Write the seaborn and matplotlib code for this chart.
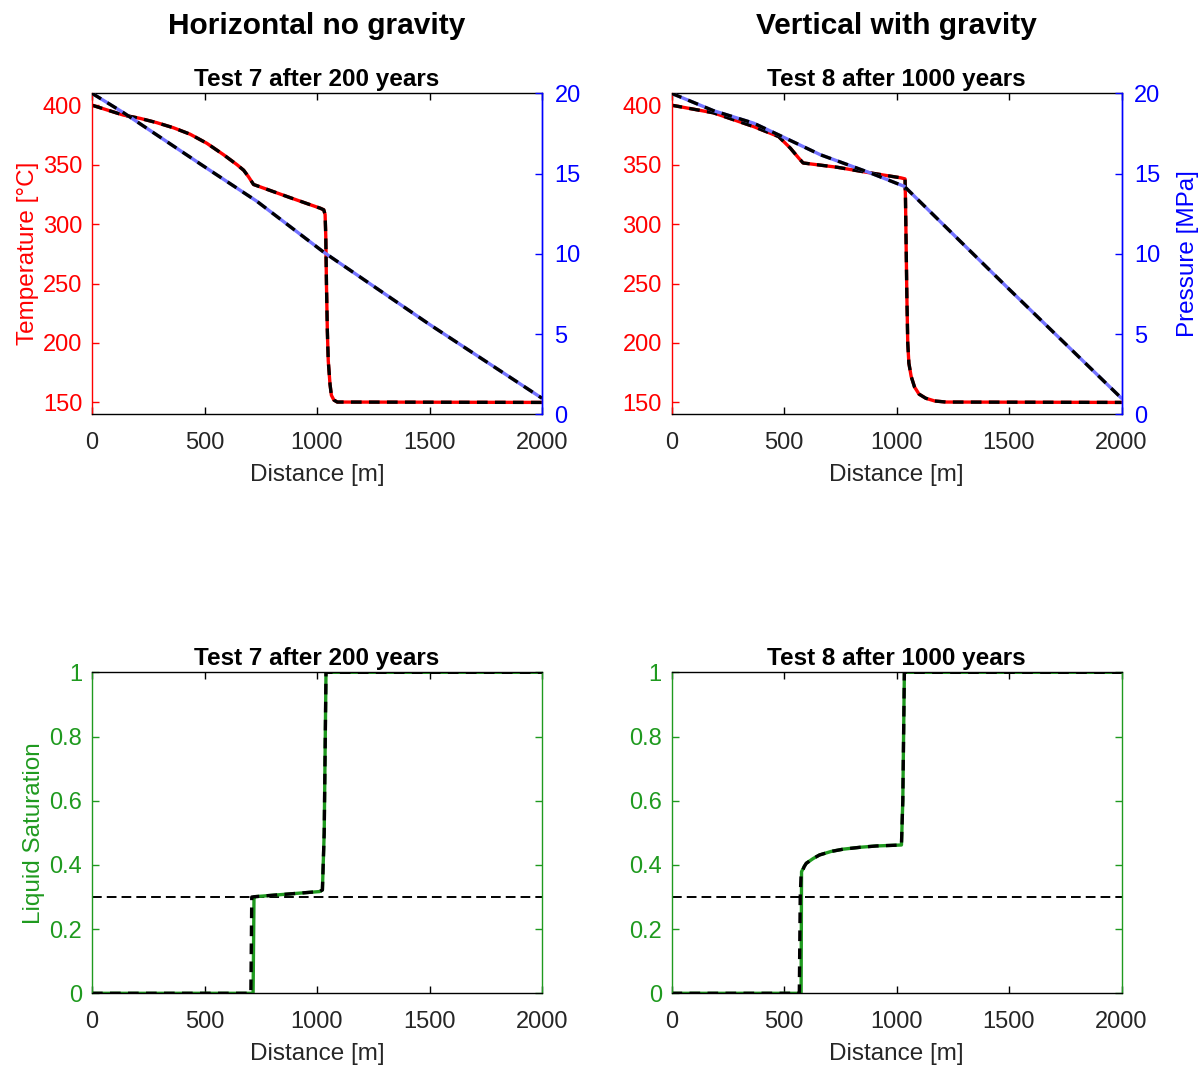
import numpy as np
import pandas as pd
import matplotlib
matplotlib.use("Agg")
import matplotlib.pyplot as plt
import seaborn as sns

# ---- profile data along the 2 km column ----
# Test 7 (horizontal, no gravity) after 200 years
t7_temp_x = [0, 139, 214, 288, 362, 436, 510, 585, 644, 674, 696, 718, 881, 1015, 1030,
             1036, 1039, 1042, 1046, 1050, 1054, 1058, 1064, 1075, 1090, 2000]
t7_temp_y = [400, 391.7, 388.9, 385.3, 381, 375.6, 368, 358.3, 350, 345.3, 339.7, 333.3,
             322.2, 313.3, 312, 308, 290, 250, 210, 185, 175, 165, 156, 152, 150.3, 150]
t7_pres_x = [0, 139, 481, 733, 1030, 1500, 2000]
t7_pres_y = [20, 18.8, 15.6, 13.27, 10.1, 5.6, 1.0]
t7_sat_x = [0, 716, 720, 724, 850, 1012, 1024, 1032, 1040, 2000]
t7_sat_y = [0, 0, 0.30, 0.301, 0.308, 0.317, 0.322, 0.5, 1.0, 1.0]
t7_sat_ref_x = [0, 706, 710, 724, 850, 1012, 1024, 1032, 1040, 2000]
t7_sat_ref_y = [0, 0, 0.30, 0.301, 0.308, 0.317, 0.322, 0.5, 1.0, 1.0]

# Test 8 (vertical, with gravity) after 1000 years
t8_temp_x = [0, 186, 365, 476, 528, 565, 585, 736, 885, 1019, 1038, 1040, 1043, 1046,
             1050, 1055, 1065, 1080, 1100, 1130, 1170, 1220, 2000]
t8_temp_y = [400, 393.6, 382, 373.6, 363.9, 355.6, 351.4, 347.8, 343, 338.9, 338, 320,
             280, 240, 200, 183, 172, 163, 157, 153.5, 151.2, 150.3, 150]
t8_pres_x = [0, 186, 365, 476, 662, 885, 1035, 1500, 2000]
t8_pres_y = [20, 18.92, 18.14, 17.41, 16.17, 15.03, 14.2, 7.8, 1.0]
t8_sat_x = [0, 576, 578, 590, 599, 630, 658, 710, 763, 840, 911, 1022, 1028, 1035, 2000]
t8_sat_y = [0, 0, 0.379, 0.395, 0.405, 0.42, 0.431, 0.442, 0.449, 0.455, 0.459, 0.462,
            0.6, 1.0, 1.0]
t8_sat_ref_x = [0, 568, 572, 576, 590, 599, 630, 658, 710, 763, 840, 911, 1022, 1028, 1035, 2000]
t8_sat_ref_y = [0, 0, 0.30, 0.37, 0.395, 0.405, 0.42, 0.431, 0.442, 0.449, 0.455, 0.459,
                0.462, 0.6, 1.0, 1.0]

residual_sat = 0.3

column_titles = ["Horizontal no gravity", "Vertical with gravity"]
panel_titles = ["Test 7 after 200 years", "Test 8 after 1000 years"]
x_ticks = [0, 500, 1000, 1500, 2000]
temp_ticks = [150, 200, 250, 300, 350, 400]
pres_ticks = [0, 5, 10, 15, 20]
sat_ticks = [0, 0.2, 0.4, 0.6, 0.8, 1.0]
sat_tick_labels = ["0", "0.2", "0.4", "0.6", "0.8", "1"]

# ---- styling ----
sns.set_style("ticks")
plt.rcParams["font.family"] = ["Liberation Sans", "DejaVu Sans"]
plt.rcParams["axes.linewidth"] = 1.0
plt.rcParams["text.color"] = "black"

RED = "#ff0000"
BLUE = "#0000ff"
PBLUE = "#7373ff"
GREEN = "#1f9a1f"
GREY = "#262626"
LW = 2.4
DLW = 2.4
DASH = (0, (3.2, 2.2))
TICK_FS = 17
LABEL_FS = 17.5
TITLE_FS = 17.5

fig = plt.figure(figsize=(12.01, 10.68), dpi=100)

col_left = [92 / 1201, 671.5 / 1201]
ax_w = 450 / 1201
top_bottom = 1 - 414.3 / 1068
bot_bottom = 1 - 993.3 / 1068
ax_h = 321 / 1068


def style_x(ax):
    ax.set_xlim(0, 2000)
    ax.set_xticks(x_ticks)
    ax.set_xticklabels([str(v) for v in x_ticks])
    ax.tick_params(axis="x", which="both", direction="in", top=True, bottom=True,
                   length=5, width=1, color="black", labelcolor=GREY,
                   labelsize=TICK_FS, pad=13)
    ax.set_xlabel("Distance [m]", fontsize=LABEL_FS, color=GREY, labelpad=7)
    ax.spines["top"].set_color("black")
    ax.spines["bottom"].set_color("black")


def line(ax, x, y, color, dashed=False):
    df = pd.DataFrame({"x": x, "y": y})
    kw = dict(linestyle=DASH, linewidth=DLW) if dashed else dict(linewidth=LW)
    sns.lineplot(data=df, x="x", y="y", ax=ax, color=color,
                 estimator=None, sort=False, legend=False, **kw)


temp_sets = [(t7_temp_x, t7_temp_y, t7_pres_x, t7_pres_y),
             (t8_temp_x, t8_temp_y, t8_pres_x, t8_pres_y)]
sat_sets = [(t7_sat_x, t7_sat_y, t7_sat_ref_x, t7_sat_ref_y),
            (t8_sat_x, t8_sat_y, t8_sat_ref_x, t8_sat_ref_y)]

for i in range(2):
    # temperature / pressure panel
    ax = fig.add_axes([col_left[i], top_bottom, ax_w, ax_h])
    tx, ty, px, py = temp_sets[i]
    line(ax, tx, ty, RED)
    line(ax, tx, ty, "black", dashed=True)
    ax.set_ylim(140, 410)
    ax.set_yticks(temp_ticks)
    ax.set_yticklabels([str(v) for v in temp_ticks])
    ax.tick_params(axis="y", which="both", direction="in", left=True, right=True,
                   labelright=False, length=5, width=1, color=RED, labelcolor=RED,
                   labelsize=TICK_FS, pad=7)
    ax.spines["left"].set_color(RED)
    ax.spines["right"].set_color(BLUE)
    style_x(ax)
    ax.set_ylabel("Temperature [°C]" if i == 0 else "", fontsize=LABEL_FS, color=RED,
                  labelpad=3)
    ax.set_title(panel_titles[i], fontsize=TITLE_FS, fontweight="bold", pad=5,
                 color="black")

    ax2 = ax.twinx()
    line(ax2, px, py, PBLUE)
    line(ax2, px, py, "black", dashed=True)
    ax2.set_ylim(0, 20)
    ax2.set_yticks(pres_ticks)
    ax2.set_yticklabels([str(v) for v in pres_ticks])
    ax2.tick_params(axis="y", which="both", direction="in", right=True, left=False,
                    length=5, width=1, color=BLUE, labelcolor=BLUE,
                    labelsize=TICK_FS, pad=9)
    for s in ["left", "top", "bottom"]:
        ax2.spines[s].set_visible(False)
    ax2.spines["right"].set_color(BLUE)
    ax2.set_ylabel("Pressure [MPa]" if i == 1 else "", fontsize=LABEL_FS, color=BLUE,
                   labelpad=12)
    ax2.set_xlabel("")

    fig.text(col_left[i] + ax_w / 2, 1 - 26 / 1068, column_titles[i], ha="center",
             va="center", fontsize=21.5, fontweight="bold", color="black")

    # saturation panel
    axs = fig.add_axes([col_left[i], bot_bottom, ax_w, ax_h])
    sx, sy, rx, ry = sat_sets[i]
    axs.axhline(residual_sat, color="black", linewidth=1.4, linestyle=(0, (5, 2.6)))
    line(axs, sx, sy, GREEN)
    line(axs, rx, ry, "black", dashed=True)
    axs.set_ylim(0, 1)
    axs.set_yticks(sat_ticks)
    axs.set_yticklabels(sat_tick_labels)
    axs.tick_params(axis="y", which="both", direction="in", left=True, right=True,
                    length=5, width=1, color=GREEN, labelcolor=GREEN,
                    labelsize=TICK_FS, pad=7)
    axs.spines["left"].set_color(GREEN)
    axs.spines["right"].set_color(GREEN)
    style_x(axs)
    axs.set_ylabel("Liquid Saturation" if i == 0 else "", fontsize=LABEL_FS, color=GREEN,
                   labelpad=3)
    axs.set_title(panel_titles[i], fontsize=TITLE_FS, fontweight="bold", pad=5,
                  color="black")

fig.savefig("out.png", dpi=100, facecolor="white")
